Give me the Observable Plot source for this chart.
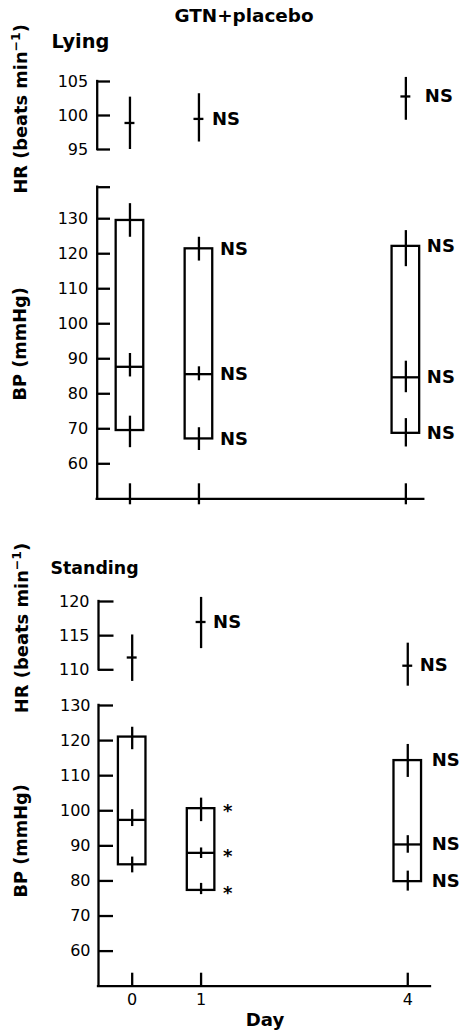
<!DOCTYPE html>
<html><head><meta charset="utf-8">
<script src="https://cdn.jsdelivr.net/npm/d3@7"></script>
<script src="https://cdn.jsdelivr.net/npm/@observablehq/plot@0.6"></script>
<style>
html,body{margin:0;padding:0;background:#fff;overflow:hidden}
#chart{position:relative;width:459px;height:1034px;font-family:"DejaVu Sans",sans-serif;color:#000}
#chart svg{position:absolute;left:0;top:0}
.lbl{position:absolute;white-space:nowrap;line-height:1;font-weight:bold;color:#000}
.sup{font-size:0.7em;line-height:0;vertical-align:0.55em}
</style></head><body><div id="chart"></div>
<script>
// ---- data ----
const days = [0, 1, 4];
const dayTickLabels = ["0", "1", "4"];

// Lying heart rate (beats/min): mean and error-bar ends
const lyingHRMean = [98.9, 99.5, 102.8];
const lyingHRLow  = [95.0, 96.1, 99.3];
const lyingHRHigh = [102.7, 103.2, 105.6];
const lyingHRSig  = ["", "NS", "NS"];

// Lying blood pressure (mmHg): systolic, mean, diastolic
const lyingSys     = [129.5, 121.4, 122.1];
const lyingSysLow  = [124.7, 117.9, 116.3];
const lyingSysHigh = [134.3, 124.7, 126.6];
const lyingMap     = [87.7, 85.6, 84.7];
const lyingMapLow  = [84.8, 83.7, 80.3];
const lyingMapHigh = [91.5, 87.7, 89.3];
const lyingDia     = [69.5, 67.1, 68.7];
const lyingDiaLow  = [64.6, 63.8, 64.8];
const lyingDiaHigh = [73.6, 70.3, 72.9];
const lyingBPSig   = ["", "NS", "NS"];

// Standing heart rate
const standHRMean = [111.8, 117.0, 110.6];
const standHRLow  = [108.3, 113.1, 107.6];
const standHRHigh = [115.1, 120.6, 113.9];
const standHRSig  = ["", "NS", "NS"];

// Standing blood pressure
const standSys     = [121.0, 100.6, 114.3];
const standSysLow  = [117.4, 96.9, 109.5];
const standSysHigh = [123.8, 103.6, 118.9];
const standMap     = [97.4, 88.0, 90.4];
const standMapLow  = [95.5, 86.4, 87.9];
const standMapHigh = [100.3, 89.4, 92.9];
const standDia     = [84.6, 77.3, 79.8];
const standDiaLow  = [82.3, 76.1, 77.1];
const standDiaHigh = [86.8, 79.3, 82.8];
const standBPSig   = ["", "*", "NS"];

// axis ticks
const lyingHRTicks = [95, 100, 105];
const lyingBPTicks = [60, 70, 80, 90, 100, 110, 120, 130];
const lyingBPTop = 139;
const standHRTicks = [110, 115, 120];
const standBPTicks = [60, 70, 80, 90, 100, 110, 120, 130];
const bpAxisBottom = 50;

// ---- build ----
const W = 459, H = 1034, LW = 2.3;
const BOX = 0.2, CROSS = 0.072;
const lyingX = {domain: [-0.475, 4.26], ml: 96.7, mr: 35.7};
const standX = {domain: [-0.489, 4.33], ml: 98, mr: 29};

function hrRows(mean, lo, hi, sig) {
  return days.map((day, i) => ({day, mean: mean[i], lo: lo[i], hi: hi[i], sig: sig[i]}));
}
function bpRows(s, sl, sh, m, ml, mh, d, dl, dh, sig) {
  return days.map((day, i) => ({day, sys: s[i], sysLo: sl[i], sysHi: sh[i],
    map: m[i], mapLo: ml[i], mapHi: mh[i], dia: d[i], diaLo: dl[i], diaHi: dh[i], sig: sig[i]}));
}

function panel({xs, yDomain, mt, mb, tickValues, tickLabels, tickLen, pad, marks}) {
  const frameW = W - xs.ml - xs.mr, frameH = H - mt - mb;
  return Plot.plot({
    width: W, height: H, marginTop: mt, marginBottom: mb, marginLeft: xs.ml, marginRight: xs.mr,
    x: {domain: xs.domain, axis: null, label: null},
    y: {domain: yDomain, axis: null, label: null},
    style: {fontFamily: "DejaVu Sans", fontSize: "16px", color: "black", background: "transparent", overflow: "hidden"},
    marks: [
      Plot.ruleX([xs.domain[0]], {strokeWidth: LW, strokeLinecap: "square"}),
      Plot.tickY(tickValues, {y: d => d, insetRight: frameW - tickLen, strokeWidth: LW}),
      Plot.axisY(tickLabels, {tickSize: 0, tickPadding: pad, fontSize: 16, fill: "black", label: null}),
      ...marks(frameW, frameH)
    ]
  });
}

function hrMarks(rows, dxs) {
  return () => [
    Plot.ruleX(rows, {x: "day", y1: "lo", y2: "hi", strokeWidth: LW}),
    Plot.ruleY(rows, {y: "mean", x1: d => d.day - CROSS, x2: d => d.day + CROSS, strokeWidth: LW}),
    ...dxs.map(([day, dx]) => Plot.text(rows.filter(r => r.sig && r.day === day),
      {x: "day", y: "mean", text: "sig", textAnchor: "start", dx, fontSize: 18, fontWeight: "bold", fill: "black"}))
  ];
}

function bpMarks(rows, {dx, tickUp, tickDown, labels}) {
  const bars = rows.flatMap(r => [
    {day: r.day, lo: r.sysLo, hi: r.sysHi},
    {day: r.day, lo: r.mapLo, hi: r.mapHi},
    {day: r.day, lo: r.diaLo, hi: r.diaHi}]);
  const notes = rows.filter(r => r.sig).flatMap(r => ["sys", "map", "dia"].map(k => ({day: r.day, v: r[k], sig: r.sig})));
  return (frameW, frameH) => [
    Plot.ruleY([bpAxisBottom], {strokeWidth: LW, strokeLinecap: "square"}),
    Plot.tickX(days, {x: d => d, insetTop: frameH - tickUp, insetBottom: -tickDown, strokeWidth: LW}),
    ...(labels ? [Plot.axisX(days, {tickSize: 0, tickPadding: 7, fontSize: 16, fill: "black", label: null,
      tickFormat: d => dayTickLabels[days.indexOf(d)]})] : []),
    Plot.rect(rows, {x1: d => d.day - BOX, x2: d => d.day + BOX, y1: "dia", y2: "sys", fill: "none", stroke: "black", strokeWidth: LW}),
    Plot.ruleY(rows, {y: "map", x1: d => d.day - BOX, x2: d => d.day + BOX, strokeWidth: LW}),
    Plot.ruleX(bars, {x: "day", y1: "lo", y2: "hi", strokeWidth: LW}),
    Plot.text(notes.filter(n => n.sig !== "*"), {x: "day", y: "v", text: "sig", textAnchor: "start", dx, fontSize: 18, fontWeight: "bold", fill: "black"}),
    Plot.text(notes.filter(n => n.sig === "*"), {x: "day", y: "v", text: "sig", textAnchor: "start", dx: 22, dy: 3, fontSize: 18, fontWeight: "bold", fill: "black"})
  ];
}

const chart = document.getElementById("chart");

chart.append(panel({xs: lyingX, yDomain: [95, 105], mt: 81, mb: H - 149,
  tickValues: lyingHRTicks, tickLabels: lyingHRTicks, tickLen: 13.3, pad: 9,
  marks: hrMarks(hrRows(lyingHRMean, lyingHRLow, lyingHRHigh, lyingHRSig), [[1, 13], [4, 19]])}));

chart.append(panel({xs: lyingX, yDomain: [bpAxisBottom, lyingBPTop], mt: 186.7, mb: H - 498.3,
  tickValues: [...lyingBPTicks, lyingBPTop], tickLabels: lyingBPTicks, tickLen: 13.3, pad: 9,
  marks: bpMarks(bpRows(lyingSys, lyingSysLow, lyingSysHigh, lyingMap, lyingMapLow, lyingMapHigh, lyingDia, lyingDiaLow, lyingDiaHigh, lyingBPSig),
    {dx: 21, tickUp: 15, tickDown: 6, labels: false})}));

chart.append(panel({xs: standX, yDomain: [110, 120], mt: 601, mb: H - 669.3,
  tickValues: standHRTicks, tickLabels: standHRTicks, tickLen: 15.5, pad: 9,
  marks: hrMarks(hrRows(standHRMean, standHRLow, standHRHigh, standHRSig), [[1, 12], [4, 12]])}));

chart.append(panel({xs: standX, yDomain: [bpAxisBottom, 130], mt: 705, mb: H - 985.7,
  tickValues: standBPTicks, tickLabels: standBPTicks, tickLen: 15, pad: 8,
  marks: bpMarks(bpRows(standSys, standSysLow, standSysHigh, standMap, standMapLow, standMapHigh, standDia, standDiaLow, standDiaHigh, standBPSig),
    {dx: 24, tickUp: 13, tickDown: 0, labels: true})}));

// ---- text labels, sized to the reference's text widths ----
// baseline position: with line-height 1, DejaVu Sans baseline sits at 0.846em below the box top
const BASE = 0.846;
function label(html, {width, fs0 = 16, anchor = "start", x, baseline, rotate = false, cy}) {
  const d = document.createElement("div");
  d.className = "lbl";
  d.innerHTML = html;
  d.style.fontSize = fs0 + "px";
  d.style.left = "0px"; d.style.top = "0px";
  chart.append(d);
  const fs = fs0 * width / d.offsetWidth;
  d.style.fontSize = fs + "px";
  const w = d.offsetWidth, h = d.offsetHeight;
  if (!rotate) {
    d.style.left = (anchor === "middle" ? x - w / 2 : x) + "px";
    d.style.top = (baseline - BASE * fs) + "px";
  } else {
    // rotate -90deg about the box centre; the baseline ends up at x = centre + (BASE - 0.5)*fs
    const cx = x - (BASE - 0.5) * fs;
    d.style.left = (cx - w / 2) + "px";
    d.style.top = (cy - h / 2) + "px";
    d.style.transform = "rotate(-90deg)";
  }
}
label("GTN+placebo", {width: 139, anchor: "middle", x: 244, baseline: 22.7});
label("Lying", {width: 58, x: 51.5, baseline: 48.3});
label("Standing", {width: 88, x: 50.5, baseline: 575});
label("Day", {width: 38.5, anchor: "middle", x: 265.3, baseline: 1026.5});
const hrTitle = 'HR (beats min<span class="sup">−1</span>)';
const bpTitle = "BP (mmHg)";
label(hrTitle, {width: 169, rotate: true, x: 27, cy: 108.5});
label(bpTitle, {width: 113, rotate: true, x: 27, cy: 344});
label(hrTitle, {width: 170, rotate: true, x: 28, cy: 628});
label(bpTitle, {width: 113, rotate: true, x: 28, cy: 841});
</script>
</body></html>
